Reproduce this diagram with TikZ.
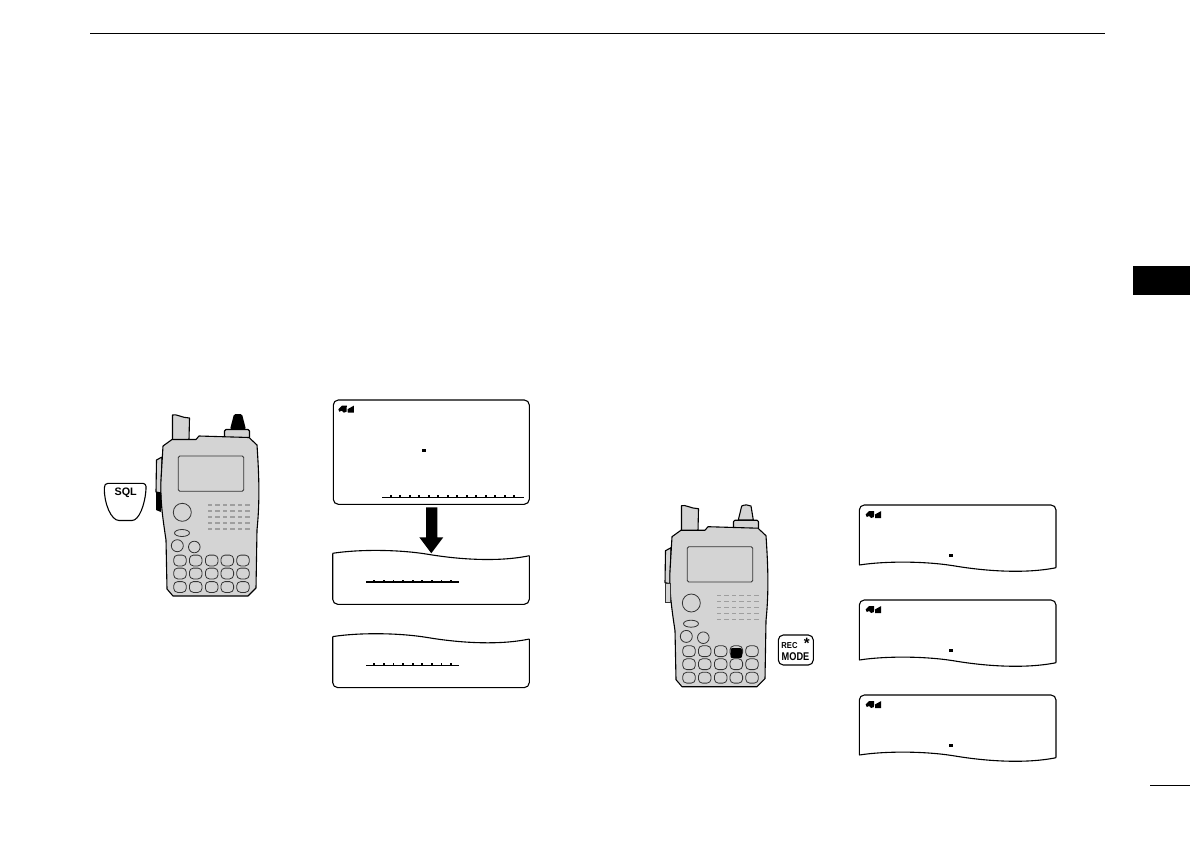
\documentclass[tikz,border=0pt]{standalone}
\usepackage{fontspec}
\setsansfont{Liberation Sans}
\definecolor{bodygray}{gray}{0.83}
\definecolor{holegray}{gray}{0.62}
\tikzset{
    outline/.style={draw=black, line width=1.1pt, line join=round},
    thinline/.style={draw=black!80, line width=0.8pt},
    keycap/.style={thinline, fill=bodygray, rounded corners=4pt},
    pics/radio/.style={code={
        \draw[outline, fill=bodygray] (82.5,40) -- (82.5,15) .. controls (86,13.5) and (92,18) .. (99.5,18) -- (99,40) -- cycle;
        \draw[outline, fill=bodygray, rounded corners=1.5pt] (134.5,37.5) -- (134.5,29.5) -- (159.5,29.5) -- (159.5,37.5);
        \draw[outline, fill=bodygray] (72,57) -- (66.5,60) -- (66,92) -- (71,93) -- cycle;
        \draw[outline, fill=bodygray] (73,46) -- (82,39.5) -- (106,39.5) -- (109,36) -- (159,37.5) -- (167,45)
            .. controls (169,75) and (170,100) .. (167,130) -- (166,188) -- (158,196) -- (83,196) -- (77,189) -- (76,140)
            .. controls (73,120) and (70,100) .. (71,80) -- cycle;
        \draw[thinline, rounded corners=1.5pt] (88.3,56) rectangle (153.7,91.3);
        \draw[thinline] (92.3,112.3) circle (9);
        \draw[thinline] (92,133) ellipse (7.5 and 3.5);
        \draw[thinline] (87.3,145.7) circle (6);
        \draw[thinline] (104.3,147) circle (5.8);
        \foreach \hx in {120,127.5,135,142.5,150,157.3}
            \foreach \hy in {104.7,110.7,116.7,122.7,128.7}
                \fill[holegray] (\hx-2.2,\hy-0.9) rectangle (\hx+2.2,\hy+0.9);
        \foreach \kx in {90,105.7,121.7,137.3,153}
            \foreach \ky in {160.5,173.5,187}
                \draw[keycap] (\kx-6.3,\ky-5.4) rectangle (\kx+6.3,\ky+5.4);
    }},
    pics/lcdicon/.style={code={
        \fill[black] (0,3.5) -- (3.5,0) -- (8.5,0) -- (8.2,6) -- (5.5,7) -- (3.5,5) -- (1,6) -- cycle;
        \fill[black] (9.2,3.5) -- (15.5,0) -- (15.5,7) -- (9.5,7) -- cycle;
    }},
    pics/tickbar/.style={code={
        \draw[black, line width=1.2pt] (0,0) -- (93,0);
        \foreach \tk in {0,...,8}
            \fill[black] (8+\tk*9.6-0.9,-2) rectangle (8+\tk*9.6+0.9,0);
    }},
}
\begin{document}
\begin{tikzpicture}[x=1pt,y=-1pt]
\useasboundingbox (0,0) rectangle (1190,840);

% page furniture
\draw[black, line width=1.3pt] (90,33.3) -- (1105,33.3);
\fill[black] (1133,266) rectangle (1190,295);
\draw[black, line width=1.2pt] (1150,785.3) -- (1190,785.3);

% left radio
\pic at (90,400) {radio};
\fill[black, rounded corners=1.5pt] (230,429.5) -- (234,414) -- (242,414) -- (246,429.5) -- cycle;
\fill[black] (156,492) -- (161.5,493) -- (161,512) -- (156,510) -- cycle;

% SQL key
\draw[outline, fill=white] (108,483.3) -- (142,483.3) .. controls (145,483.3) and (146.5,485) .. (146,489)
    .. controls (145,505) and (139,520.5) .. (132,520.5) -- (119,520.5)
    .. controls (111,520.5) and (104,503) .. (104.3,488) .. controls (104.3,485) and (105.5,483.3) .. (108,483.3) -- cycle;
\node[font=\sffamily\bfseries, scale=1.08, inner sep=0pt] (sqlkey) at (125.7,492.8) {SQL};

% left displays
\draw[outline, rounded corners=5pt] (333.3,400) rectangle (529.3,504.3);
\pic at (338.3,405.7) {lcdicon};
\fill[black] (422,449) rectangle (426,452.3);
\draw[black, line width=1.2pt] (382,497.7) -- (524,497.7);
\foreach \tk in {0,...,13}
    \fill[black] (390.7+\tk*9.5-0.9,495.3) rectangle (390.7+\tk*9.5+0.9,497.7);

\foreach \py/\bary in {553.3/582, 636.6/665.3}{
    \draw[outline, rounded corners=5pt] (332.7,\py) -- (332.7,\py+51) -- (529.3,\py+51) -- (529.3,\py+2.4);
    \draw[outline] (332.7,\py) .. controls (358,\py-4) and (398,\py-4) .. (428,\py+1)
        .. controls (458,\py+6) and (498,\py+9) .. (529.3,\py+2.4);
    \pic at (366.3,\bary) {tickbar};
}

% black arrow between the displays
\fill[black] (426,507.3) -- (437.3,507.3) -- (437.3,537.3) -- (443.3,537.3) -- (431.3,553.3) -- (419.3,537.3) -- (426,537.3) -- cycle;

% right radio
\pic at (599,490.7) {radio};
\draw[outline, fill=bodygray] (738.3,520) -- (741.7,506) .. controls (745,504.5) and (748,504.5) .. (751,506) -- (753.3,520) -- cycle;
\draw[thinline, fill=bodygray] (665,583.7) -- (665,602.7) -- (670,602.7) -- (670,583.7) -- cycle;
\fill[black, rounded corners=2pt] (730.5,648) rectangle (742,658.2);

% REC MODE key
\draw[outline, rounded corners=5pt] (778.3,635) rectangle (813.3,665);
\node[font=\sffamily\bfseries, xscale=0.76, yscale=0.86, inner sep=0pt] (reckey) at (789.5,645.8) {REC};
\node[font=\sffamily\bfseries, xscale=0.92, yscale=1.12, inner sep=0pt] (modekey) at (795.5,656.7) {MODE};
\node[font=\sffamily\bfseries, scale=1.5, inner sep=0pt] (starkey) at (806.7,643.5) {*};

% right displays
\foreach \py in {505,600,695}{
    \draw[outline, rounded corners=5pt] (859.3,\py+60) -- (859.3,\py) -- (1056,\py) -- (1056,\py+62.7);
    \draw[outline] (859.3,\py+60) .. controls (885,\py+56) and (925,\py+56) .. (955,\py+61)
        .. controls (985,\py+66) and (1025,\py+69) .. (1056,\py+62.7);
    \pic at (865.7,\py+6) {lcdicon};
    \fill[black] (949,\py+49) rectangle (953,\py+52.3);
}
\end{tikzpicture}
\end{document}
